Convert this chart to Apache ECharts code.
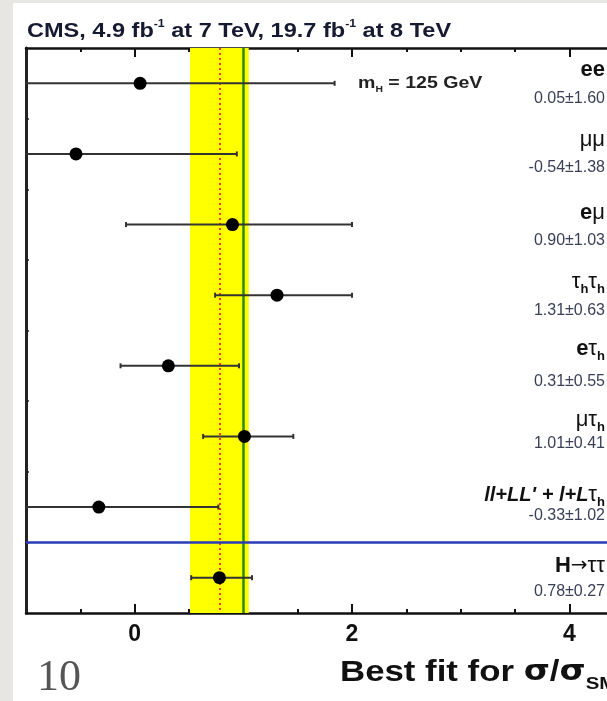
<!DOCTYPE html>
<html><head><meta charset="utf-8">
<script src="https://cdn.jsdelivr.net/npm/echarts@6/dist/echarts.min.js"></script>
<style>html,body{margin:0;padding:0;background:#fff}#c{width:607px;height:701px}</style>
</head><body><div id="c"></div>
<script>
// ---- data ----
const channels = ['ee', 'μμ', 'eμ', 'τhτh', 'eτh', 'μτh', "ll+LL' + l+Lτh", 'H→ττ'];
const bestFit = [0.05, -0.54, 0.90, 1.31, 0.31, 1.01, -0.33, 0.78];
const errLow  = [-1.55, -1.92, -0.08, 0.74, -0.13, 0.63, -1.35, 0.52];
const errHigh = [1.84, 0.94, 2.00, 2.00, 0.96, 1.46, 0.77, 1.08];
const resultText = ['0.05±1.60', '-0.54±1.38', '0.90±1.03', '1.31±0.63', '0.31±0.55', '1.01±0.41', '-0.33±1.02', '0.78±0.27'];
const combinedBest = [0.78];
const combinedBand = [0.51, 1.05];
const smExpectation = [1.0];
const separatorRow = [6.5];
const xMajorTicks = [0, 2, 4];
const xMinorTicks = [-0.5, 0.5, 1, 1.5, 2.5, 3, 3.5, 4.5];
const yTicks = [0.5, 1.5, 2.5, 3.5, 4.5, 5.5, 6.5];

// ---- label formatting (style) ----
const richNames = [
  '{b|ee}', '{g|μμ}', '{b|e}{g|μ}', '{g|τ}{s|h}{g|τ}{s|h}', '{b|e}{g|τ}{s|h}',
  '{g|μτ}{s|h}', "{bi|ll+LL' + l+L}{g|τ}{s|h}", '{b|H}{a|→}{g|ττ}'
];
const nameDy = [-13, -14, -12, -13, -17, -17, -12, -12];
const valueDy = [15, 14, 16, 15, 16, 7, 9, 14];

const FONT = 'Liberation Sans, Arial, Helvetica, sans-serif';
const rows = channels.map((c, i) => [bestFit[i], i, errLow[i], errHigh[i]]);

const chart = echarts.init(document.getElementById('c'));
const axisCommon = {type: 'value', min: -1, max: 5, splitLine: {show: false}};
chart.setOption({
  animation: false,
  backgroundColor: '#ffffff',
  grid: {left: 26, top: 48, right: -71, bottom: 88, containLabel: false, outerBoundsMode: 'none'},
  xAxis: [
    Object.assign({}, axisCommon, {position: 'bottom',
      axisLine: {show: true, onZero: false, lineStyle: {color: '#111', width: 2.5}},
      axisTick: {show: true, inside: true, length: 9, customValues: xMajorTicks, lineStyle: {color: '#111', width: 2}},
      axisLabel: {show: true, customValues: xMajorTicks, fontSize: 23, fontWeight: 'bold', color: '#111', fontFamily: FONT, margin: 10}}),
    Object.assign({}, axisCommon, {position: 'bottom',
      axisLine: {show: false, onZero: false},
      axisTick: {show: true, inside: true, length: 4, customValues: xMinorTicks, lineStyle: {color: '#111', width: 2}},
      axisLabel: {show: false}}),
    Object.assign({}, axisCommon, {position: 'top',
      axisLine: {show: true, onZero: false, lineStyle: {color: '#111', width: 2.5}},
      axisTick: {show: true, inside: true, length: 9, customValues: xMajorTicks, lineStyle: {color: '#111', width: 2}},
      axisLabel: {show: false}}),
    Object.assign({}, axisCommon, {position: 'top',
      axisLine: {show: false, onZero: false},
      axisTick: {show: true, inside: true, length: 4, customValues: xMinorTicks, lineStyle: {color: '#111', width: 2}},
      axisLabel: {show: false}})
  ],
  yAxis: {
    type: 'value', min: -0.5, max: 7.5, inverse: true, position: 'left',
    axisLine: {show: true, onZero: false, lineStyle: {color: '#222', width: 3}},
    axisTick: {show: true, inside: true, length: 3, customValues: yTicks, lineStyle: {color: '#222', width: 1.5}},
    axisLabel: {show: false}, splitLine: {show: false}
  },
  graphic: [
    {type: 'rect', shape: {x: 0, y: 0, width: 13, height: 701}, style: {fill: '#e8e6e2'}, z: 100},
    {type: 'rect', shape: {x: 0, y: 0, width: 607, height: 3}, style: {fill: '#e8e6e2'}, z: 100},
    {type: 'text', x: 27, y: 30, scaleX: 1.12, z: 100, style: {
      text: '{t|CMS, 4.9 fb}{p|-1}{t| at 7 TeV, 19.7 fb}{p|-1}{t| at 8 TeV}',
      verticalAlign: 'middle',
      rich: {
        t: {fontFamily: FONT, fontWeight: 'bold', fontSize: 21, fill: '#161a30', lineHeight: 24, verticalAlign: 'bottom'},
        p: {fontFamily: FONT, fontWeight: 'bold', fontSize: 11, fill: '#161a30', lineHeight: 24, verticalAlign: 'top'}
      }}},
    {type: 'text', x: 358, y: 83, scaleX: 1.15, z: 100, style: {
      text: '{t|m}{s|H}{t| = 125 GeV}', verticalAlign: 'middle',
      rich: {
        t: {fontFamily: FONT, fontWeight: 'bold', fontSize: 17, fill: '#222', lineHeight: 22, verticalAlign: 'middle'},
        s: {fontFamily: FONT, fontWeight: 'bold', fontSize: 9, fill: '#222', lineHeight: 22, verticalAlign: 'bottom'}
      }}},
    {type: 'text', x: 340, y: 673, scaleX: 1.2, z: 100, style: {
      text: '{t|Best fit for }{g|σ}{t|/}{g|σ}{s|SM}', verticalAlign: 'middle',
      rich: {
        t: {fontFamily: FONT, fontWeight: 'bold', fontSize: 29, fill: '#111', lineHeight: 40, verticalAlign: 'middle'},
        g: {fontFamily: 'DejaVu Sans, sans-serif', fontWeight: 'bold', fontSize: 28, fill: '#111', lineHeight: 40, verticalAlign: 'middle'},
        s: {fontFamily: FONT, fontWeight: 'bold', fontSize: 17, fill: '#111', lineHeight: 40, verticalAlign: 'bottom'}
      }}},
    {type: 'text', x: 37, y: 678, z: 100, style: {
      text: '10', fontFamily: 'Liberation Serif, Times New Roman, serif', fontSize: 44, fill: '#555', verticalAlign: 'middle'}}
  ],
  series: [
    {
      type: 'line', data: [], xAxisIndex: 0, yAxisIndex: 0, z: 1, silent: true,
      markArea: {silent: true, itemStyle: {color: '#ffff00'}, data: [[{xAxis: combinedBand[0]}, {xAxis: combinedBand[1]}]]},
      markLine: {silent: true, symbol: 'none', label: {show: false}, data: [
        {xAxis: combinedBest[0], lineStyle: {color: '#ff3a00', width: 2, type: [2, 3]}},
        {xAxis: smExpectation[0], lineStyle: {color: '#2a8a00', width: 2.5, type: 'solid'}},
        {yAxis: separatorRow[0], lineStyle: {color: '#2b3bb8', width: 2.5, type: 'solid'}}
      ]}
    },
    {
      type: 'custom', xAxisIndex: 0, yAxisIndex: 0, z: 5, clip: true,
      encode: {x: 0, y: 1},
      data: rows,
      renderItem: function (params, api) {
        const row = api.value(1);
        const p = api.coord([api.value(0), row]);
        const a = api.coord([api.value(2), row]);
        const b = api.coord([api.value(3), row]);
        const ls = {stroke: '#333', lineWidth: 2};
        return {type: 'group', children: [
          {type: 'line', shape: {x1: a[0], y1: a[1], x2: b[0], y2: b[1]}, style: ls},
          {type: 'line', shape: {x1: a[0], y1: a[1] - 2.5, x2: a[0], y2: a[1] + 2.5}, style: ls},
          {type: 'line', shape: {x1: b[0], y1: b[1] - 2.5, x2: b[0], y2: b[1] + 2.5}, style: ls},
          {type: 'circle', shape: {cx: p[0], cy: p[1], r: 6.5}, style: {fill: '#000'}}
        ]};
      }
    },
    {
      type: 'custom', xAxisIndex: 0, yAxisIndex: 0, z: 6, clip: false,
      encode: {x: 0, y: 1},
      data: rows,
      renderItem: function (params, api) {
        const i = params.dataIndex;
        const y = api.coord([0, api.value(1)])[1];
        const x = api.getWidth() - 2;
        return {type: 'group', children: [
          {type: 'text', x: x, y: y + nameDy[i], style: {
            text: richNames[i], align: 'right', verticalAlign: 'middle',
            rich: {
              b: {fontFamily: FONT, fontWeight: 'bold', fontSize: 22, fill: '#111', lineHeight: 28, verticalAlign: 'middle'},
              bi: {fontFamily: FONT, fontWeight: 'bold', fontStyle: 'italic', fontSize: 20, fill: '#111', lineHeight: 28, verticalAlign: 'middle'},
              g: {fontFamily: FONT, fontSize: 22, fill: '#111', lineHeight: 28, verticalAlign: 'middle'},
              a: {fontFamily: 'DejaVu Sans, sans-serif', fontSize: 20, fill: '#111', lineHeight: 28, verticalAlign: 'middle'},
              s: {fontFamily: FONT, fontWeight: 'bold', fontSize: 13, fill: '#111', lineHeight: 28, verticalAlign: 'bottom'}
            }}},
          {type: 'text', x: x, y: y + valueDy[i], style: {
            text: resultText[i], align: 'right', verticalAlign: 'middle',
            fontFamily: FONT, fontSize: 16, fill: '#3a4058'}}
        ]};
      }
    }
  ]
});
</script>
</body></html>
